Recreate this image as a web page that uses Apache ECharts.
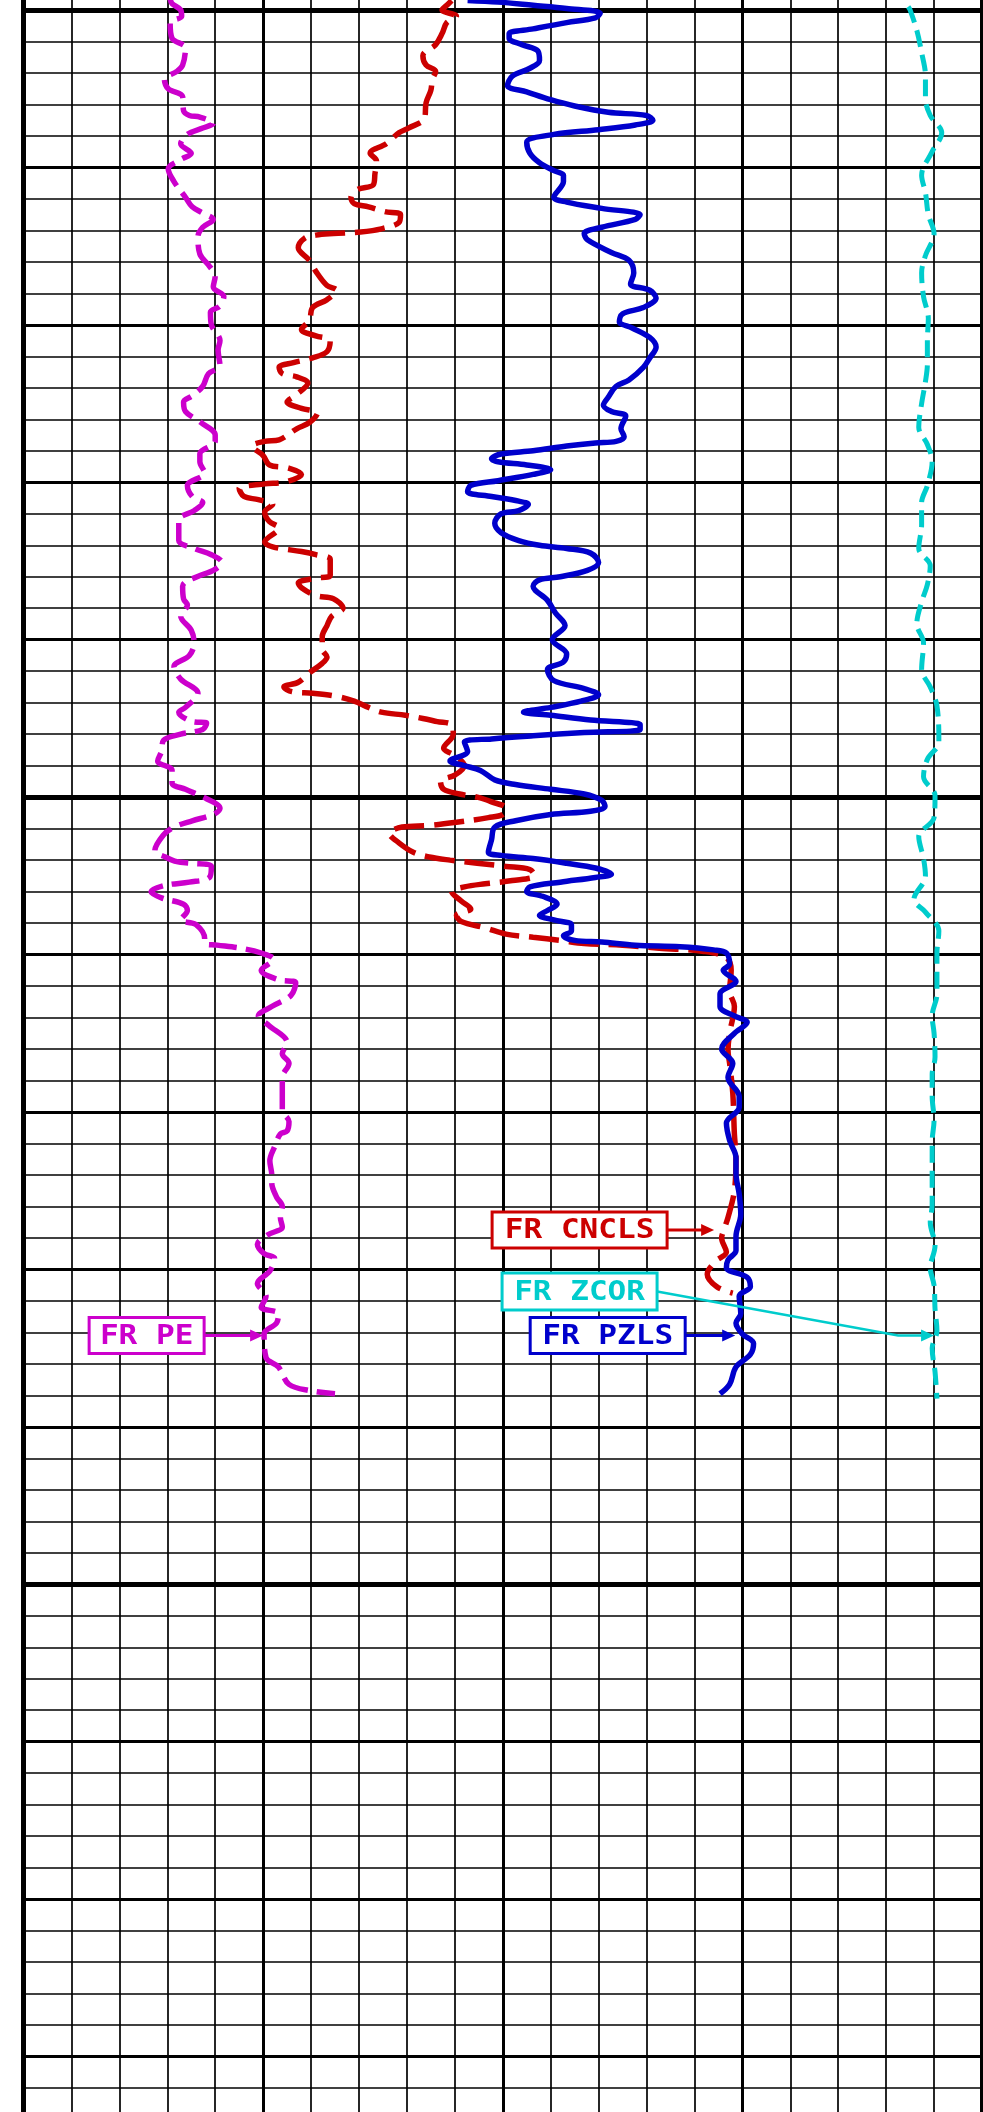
<!DOCTYPE html>
<html><head><meta charset="utf-8">
<script src="https://cdn.jsdelivr.net/npm/echarts@6/dist/echarts.min.js"></script>
<style>html,body{margin:0;padding:0;background:#fff}#c{width:983px;height:2112px}</style>
</head><body><div id="c"></div>
<script>
// ---- depth (ft) and curve values ----
const PE_DEPTH = [4999.3,4999.6,5000.0,5000.4,5000.8,5001.8,5002.4,5003.5,5003.9,5004.4,
5005.0,5005.5,5006.4,5006.7,5006.8,5007.2,5007.5,5007.9,5008.5,5009.1,
5009.5,5010.1,5010.9,5011.9,5012.5,5012.9,5013.3,5013.8,5014.4,5015.5,
5016.2,5016.9,5017.6,5018.2,5018.8,5019.2,5020.0,5021.0,5021.6,5022.6,
5023.1,5023.9,5024.5,5024.9,5025.5,5026.2,5027.0,5027.4,5028.2,5028.7,
5029.4,5030.2,5030.9,5031.3,5031.8,5032.4,5033.7,5034.2,5034.6,5035.1,
5035.6,5035.9,5036.6,5037.4,5037.8,5038.5,5039.4,5040.2,5041.0,5041.7,
5042.5,5043.4,5044.3,5044.6,5045.2,5045.3,5045.7,5046.0,5046.4,5047.1,
5047.7,5048.3,5049.1,5049.5,5050.1,5050.7,5051.1,5051.5,5051.9,5052.4,
5053.4,5053.8,5054.1,5054.2,5054.4,5055.1,5055.4,5055.6,5056.0,5056.4,
5056.8,5057.2,5057.8,5058.1,5059.0,5059.3,5059.4,5059.6,5059.9,5060.3,
5061.0,5061.6,5061.8,5062.6,5063.3,5063.9,5064.5,5065.6,5066.3,5066.9,
5067.8,5068.6,5069.9,5070.6,5071.2,5071.4,5072.2,5073.1,5074.0,5074.5,
5075.4,5076.0,5076.7,5077.3,5077.8,5078.4,5079.0,5079.3,5080.1,5080.9,
5081.7,5082.4,5082.8,5083.4,5084.1,5085.6,5086.2,5087.3,5087.7,5087.9];
const PE_VALUE = [1.53,1.55,1.64,1.65,1.53,1.55,1.69,1.66,1.60,1.47,
1.51,1.66,1.67,1.73,1.84,1.98,1.87,1.71,1.64,1.75,
1.64,1.51,1.57,1.69,1.76,1.87,1.98,1.87,1.82,1.84,
1.93,2.00,1.98,2.09,2.05,1.95,1.96,2.05,2.03,2.05,
1.93,1.87,1.76,1.67,1.69,1.85,2.00,2.00,1.84,1.84,
1.89,1.71,1.76,1.87,1.78,1.62,1.62,1.78,1.96,2.07,
1.98,1.85,1.66,1.67,1.71,1.64,1.75,1.78,1.73,1.57,
1.64,1.82,1.69,1.62,1.76,1.91,1.87,1.64,1.46,1.44,
1.40,1.55,1.55,1.69,1.91,2.05,1.98,1.76,1.57,1.46,
1.37,1.48,1.60,1.75,1.96,1.94,1.73,1.48,1.33,1.44,
1.67,1.71,1.64,1.80,1.89,1.89,2.02,2.27,2.48,2.61,
2.48,2.66,2.84,2.79,2.59,2.45,2.56,2.75,2.70,2.77,
2.70,2.70,2.70,2.77,2.75,2.68,2.62,2.57,2.59,2.59,
2.64,2.70,2.68,2.70,2.55,2.44,2.51,2.62,2.57,2.44,
2.53,2.48,2.66,2.64,2.51,2.53,2.66,2.77,2.99,3.25];

const CNCLS_DEPTH = [4999.4,4999.7,5000.0,5000.4,5000.8,5001.5,5002.2,5002.9,5003.5,5003.9,
5004.4,5005.1,5005.9,5006.9,5007.5,5007.8,5008.5,5009.1,5009.6,5010.4,
5011.1,5011.4,5011.9,5012.3,5012.5,5012.8,5013.0,5013.5,5013.9,5014.1,
5014.2,5014.3,5014.5,5015.1,5015.9,5016.6,5017.5,5017.8,5018.4,5018.9,
5019.7,5020.3,5020.7,5021.0,5021.7,5022.1,5022.4,5022.7,5023.1,5023.3,
5023.7,5024.5,5024.9,5025.3,5025.6,5026.2,5026.6,5027.3,5027.4,5027.7,
5028.3,5028.9,5029.1,5029.5,5030.0,5030.1,5030.4,5030.9,5031.1,5031.4,
5031.9,5032.5,5032.9,5033.8,5034.1,5034.4,5034.6,5034.9,5035.9,5036.1,
5036.4,5036.7,5037.2,5037.4,5038.0,5038.5,5039.1,5039.8,5040.6,5041.1,
5041.5,5042.1,5042.7,5043.0,5043.3,5043.4,5043.6,5043.9,5044.3,5044.6,
5044.8,5045.0,5045.2,5045.4,5046.0,5046.9,5047.3,5048.0,5048.6,5049.0,
5049.5,5049.8,5050.0,5050.3,5050.7,5051.1,5051.3,5051.6,5051.8,5051.9,
5052.3,5052.9,5053.5,5053.8,5054.0,5054.2,5054.4,5054.6,5055.0,5055.3,
5055.5,5055.7,5056.0,5056.6,5057.1,5057.5,5057.9,5058.3,5058.7,5058.9,
5059.1,5059.3,5059.4,5059.6,5059.8,5060.2,5061.0,5062.3,5063.3,5065.0,
5066.1,5066.9,5068.8,5071.4,5072.9,5075.0,5076.7,5077.6,5078.0,5078.9,
5079.5,5080.3,5081.1,5081.5];
const CNCLS_VALUE = [0.182,0.185,0.188,0.179,0.185,0.188,0.192,0.200,0.198,0.192,
0.194,0.195,0.198,0.199,0.209,0.215,0.223,0.233,0.229,0.230,
0.231,0.241,0.245,0.243,0.234,0.224,0.214,0.215,0.226,0.239,
0.256,0.267,0.274,0.278,0.271,0.267,0.260,0.254,0.260,0.269,
0.271,0.276,0.267,0.258,0.260,0.269,0.281,0.290,0.288,0.279,
0.272,0.280,0.285,0.276,0.266,0.271,0.279,0.290,0.299,0.307,
0.300,0.296,0.284,0.276,0.287,0.299,0.315,0.312,0.303,0.294,
0.299,0.296,0.290,0.299,0.294,0.276,0.267,0.258,0.258,0.268,
0.278,0.276,0.267,0.256,0.250,0.257,0.260,0.263,0.263,0.260,
0.263,0.271,0.278,0.287,0.282,0.269,0.254,0.243,0.234,0.226,
0.211,0.200,0.191,0.182,0.181,0.187,0.181,0.174,0.180,0.189,
0.187,0.177,0.166,0.157,0.148,0.150,0.159,0.179,0.196,0.213,
0.221,0.215,0.206,0.196,0.183,0.166,0.148,0.133,0.130,0.144,
0.161,0.174,0.182,0.176,0.170,0.179,0.176,0.161,0.148,0.131,
0.114,0.099,0.075,0.052,0.024,0.010,0.007,0.008,0.005,0.008,
0.009,0.008,0.006,0.005,0.004,0.005,0.009,0.012,0.013,0.010,
0.017,0.022,0.016,0.006];

const PZLS_DEPTH = [4999.4,4999.5,4999.7,4999.9,5000.2,5000.5,5000.8,5001.2,5001.5,5001.8,
5002.2,5002.6,5003.2,5003.7,5004.2,5004.8,5005.2,5005.7,5006.1,5006.5,
5006.7,5007.0,5007.3,5007.6,5007.9,5008.4,5009.1,5009.7,5010.2,5010.5,
5010.9,5011.9,5012.2,5012.6,5013.0,5013.3,5013.8,5014.2,5014.6,5015.4,
5015.9,5016.7,5017.4,5017.8,5018.3,5018.9,5019.3,5019.8,5020.2,5020.8,
5021.4,5022.1,5022.7,5023.5,5023.9,5024.6,5025.1,5025.5,5025.8,5026.6,
5027.1,5027.4,5027.5,5027.7,5028.0,5028.2,5028.5,5028.7,5028.9,5029.2,
5029.5,5029.9,5030.2,5030.6,5030.9,5031.2,5031.4,5031.8,5032.0,5032.6,
5033.2,5033.7,5034.0,5034.2,5034.5,5035.1,5035.6,5036.0,5036.2,5036.6,
5037.5,5038.3,5039.1,5040.0,5040.9,5041.4,5041.9,5042.6,5043.1,5043.5,
5043.9,5044.3,5044.6,5044.8,5045.1,5045.4,5045.7,5045.9,5046.1,5046.3,
5046.5,5047.1,5047.7,5048.0,5048.3,5048.9,5049.2,5049.5,5049.8,5050.2,
5050.6,5050.9,5051.1,5051.5,5051.9,5052.7,5053.5,5053.7,5053.9,5054.2,
5054.5,5054.9,5055.1,5055.4,5055.7,5056.0,5056.3,5056.8,5057.2,5057.5,
5057.8,5058.1,5058.5,5058.8,5059.1,5059.2,5059.4,5059.5,5059.7,5059.9,
5060.6,5061.0,5061.7,5062.5,5063.3,5063.9,5064.3,5065.0,5066.0,5066.9,
5067.8,5069.0,5069.7,5070.7,5071.8,5072.9,5073.9,5075.2,5076.5,5077.9,
5078.8,5079.4,5079.9,5080.5,5081.1,5081.7,5082.8,5083.4,5084.1,5084.7,
5085.4,5086.2,5087.3,5087.9];
const PZLS_VALUE = [0.172,0.153,0.131,0.110,0.089,0.092,0.110,0.131,0.146,0.146,
0.138,0.128,0.127,0.133,0.144,0.147,0.135,0.120,0.105,0.084,
0.060,0.056,0.067,0.090,0.118,0.135,0.133,0.127,0.118,0.112,
0.112,0.118,0.110,0.088,0.064,0.067,0.088,0.099,0.097,0.082,
0.071,0.068,0.070,0.058,0.054,0.062,0.075,0.077,0.069,0.058,
0.054,0.058,0.062,0.071,0.079,0.084,0.087,0.082,0.073,0.076,
0.074,0.079,0.092,0.110,0.131,0.151,0.157,0.153,0.135,0.120,
0.131,0.153,0.170,0.172,0.157,0.140,0.134,0.140,0.151,0.155,
0.151,0.140,0.127,0.110,0.095,0.090,0.097,0.114,0.127,0.131,
0.122,0.117,0.111,0.119,0.110,0.112,0.122,0.118,0.099,0.090,
0.101,0.120,0.137,0.120,0.095,0.064,0.064,0.099,0.131,0.157,
0.174,0.172,0.183,0.174,0.164,0.155,0.142,0.120,0.099,0.088,
0.086,0.095,0.120,0.142,0.155,0.157,0.159,0.151,0.131,0.110,
0.092,0.082,0.092,0.114,0.133,0.135,0.125,0.116,0.122,0.127,
0.118,0.107,0.107,0.112,0.105,0.088,0.067,0.039,0.018,0.010,
0.008,0.012,0.004,0.014,0.014,0.005,-0.003,0.005,0.013,0.006,
0.009,0.002,0.002,0.010,0.008,0.004,0.004,0.002,0.001,0.004,
0.004,0.009,0.010,-0.003,-0.005,0.002,0.001,0.004,0.000,-0.007,
-0.005,0.004,0.008,0.014];

const ZCOR_DEPTH = [4999.8,5000.0,5001.3,5002.7,5004.2,5005.6,5006.7,5007.8,5009.0,5010.5,
5011.6,5013.0,5014.2,5015.6,5016.7,5018.2,5019.6,5021.0,5022.5,5023.6,
5025.0,5026.5,5027.6,5028.7,5030.2,5031.3,5032.7,5034.2,5035.3,5036.5,
5037.6,5039.0,5040.2,5041.9,5043.0,5044.2,5046.5,5047.6,5048.7,5049.9,
5051.3,5052.5,5053.9,5055.0,5056.5,5057.3,5058.5,5059.9,5061.0,5062.5,
5063.9,5065.0,5066.5,5067.6,5069.0,5070.5,5071.9,5073.0,5074.5,5075.9,
5077.0,5078.5,5079.9,5081.0,5082.5,5083.9,5085.0,5086.5,5088.2];
const ZCOR_VALUE = [0.023,0.025,0.032,0.037,0.041,0.041,0.046,0.058,0.048,0.037,
0.041,0.044,0.050,0.041,0.037,0.039,0.044,0.043,0.043,0.041,
0.037,0.034,0.043,0.048,0.043,0.037,0.037,0.034,0.046,0.043,
0.037,0.032,0.039,0.037,0.046,0.053,0.055,0.043,0.039,0.051,
0.050,0.034,0.039,0.041,0.029,0.041,0.055,0.053,0.053,0.053,
0.048,0.050,0.051,0.048,0.048,0.050,0.048,0.048,0.048,0.048,
0.046,0.051,0.046,0.050,0.051,0.053,0.048,0.051,0.053];

// curve labels: name, series index, anchor [value, depth]
const LABEL_NAMES = ['FR PE','FR CNCLS','FR ZCOR','FR PZLS'];
const LABEL_SERIES = [0, 1, 2, 3];
const LABEL_ANCHORS = [[2.5, 5084.2],[0.0177, 5077.5],[0.05, 5084.2],[0.0045, 5084.2]];

// ---- styling / layout ----
const COLORS = ['#CC00CC','#CC0000','#00CCCC','#0000CC'];
const LABEL_BOX = [
  {right:-59, w:115, h:36, dy:0},
  {right:-47, w:175, h:36, dy:0},
  {right:-277, w:155, h:37, dy:-44},
  {right:-50, w:155, h:36, dy:0}
];

function zip(d, v){ return d.map((y,i)=>[v[i], y]); }

const hidden = {axisLine:{show:false}, axisTick:{show:false}, axisLabel:{show:false}};
function gridX(interval, w){ return Object.assign({type:'value', min:0, max:20, interval:interval,
  splitLine:{show:true, lineStyle:{color:'#000', width:w}}}, hidden); }
function gridY(interval, w){ return Object.assign({type:'value', min:4950, max:5150, interval:interval, inverse:true,
  splitLine:{show:true, lineStyle:{color:'#000', width:w}}}, hidden); }

const option = {
  animation:false,
  backgroundColor:'#fff',
  grid:{left:23.5, right:1, top:-777.15, height:3148.6, containLabel:false, outerBoundsMode:'none'},
  xAxis:[
    gridX(1, 1.7), gridX(5, 3), gridX(20, 5),
    Object.assign({type:'value', min:0, max:10, splitLine:{show:false}}, hidden),          // PE
    Object.assign({type:'value', min:-0.15, max:0.45, inverse:true, splitLine:{show:false}}, hidden), // porosity
    Object.assign({type:'value', min:-0.9, max:0.1, splitLine:{show:false}}, hidden)        // ZCOR
  ],
  yAxis:[ gridY(2, 1.7), gridY(10, 3), gridY(50, 5) ],
  series:[
    {name:'FR PE', type:'line', xAxisIndex:3, yAxisIndex:0, data:zip(PE_DEPTH, PE_VALUE), showSymbol:false, silent:true, smooth:0.35,
     lineStyle:{color:COLORS[0], width:5.5, type:[28,9], cap:'butt'}, z:3},
    {name:'FR CNCLS', type:'line', xAxisIndex:4, yAxisIndex:0, data:zip(CNCLS_DEPTH, CNCLS_VALUE), showSymbol:false, silent:true, smooth:0.35,
     lineStyle:{color:COLORS[1], width:5.5, type:[30,10], cap:'butt'}, z:3},
    {name:'FR ZCOR', type:'line', xAxisIndex:5, yAxisIndex:0, data:zip(ZCOR_DEPTH, ZCOR_VALUE), showSymbol:false, silent:true, smooth:0.35,
     lineStyle:{color:COLORS[2], width:5, type:[17,8], cap:'butt'}, z:3},
    {name:'FR PZLS', type:'line', xAxisIndex:4, yAxisIndex:0, data:zip(PZLS_DEPTH, PZLS_VALUE), showSymbol:false, silent:true, smooth:0.35,
     lineStyle:{color:COLORS[3], width:5.5, type:'solid', join:'round'}, z:4}
  ]
};

const chart = echarts.init(document.getElementById('c'), null, {renderer:'canvas'});
chart.setOption(option);

const g = [];
LABEL_NAMES.forEach((name, i) => {
  const p = chart.convertToPixel({seriesIndex: LABEL_SERIES[i]}, LABEL_ANCHORS[i]);
  const tx = p[0], ty = p[1], B = LABEL_BOX[i], col = COLORS[i];
  const bx = tx + B.right - B.w, by = ty + B.dy - B.h/2;
  const sx = bx + B.w, sy = by + B.h/2;
  const pts = B.dy ? [[sx,sy],[tx-36,ty],[tx-10,ty]] : [[sx,sy],[tx-10,ty]];
  g.push({type:'polyline', z:100, silent:true, shape:{points:pts}, style:{stroke:col, lineWidth:B.dy?2.5:3, fill:null}});
  g.push({type:'polygon', z:100, silent:true, shape:{points:[[tx,ty],[tx-13,ty-6],[tx-13,ty+6]]}, style:{fill:col}});
  g.push({type:'rect', z:101, silent:true, shape:{x:bx, y:by, width:B.w, height:B.h}, style:{fill:'#fff', stroke:col, lineWidth:3}});
  g.push({type:'text', z:102, silent:true, x:bx + B.w/2, y:by + B.h/2 + 1, scaleX:1.15,
    style:{text:name, fill:col, font:'bold 27px "DejaVu Sans Mono"', textAlign:'center', verticalAlign:'middle', textVerticalAlign:'middle'}});
});
chart.setOption({graphic:g});
</script></body></html>
